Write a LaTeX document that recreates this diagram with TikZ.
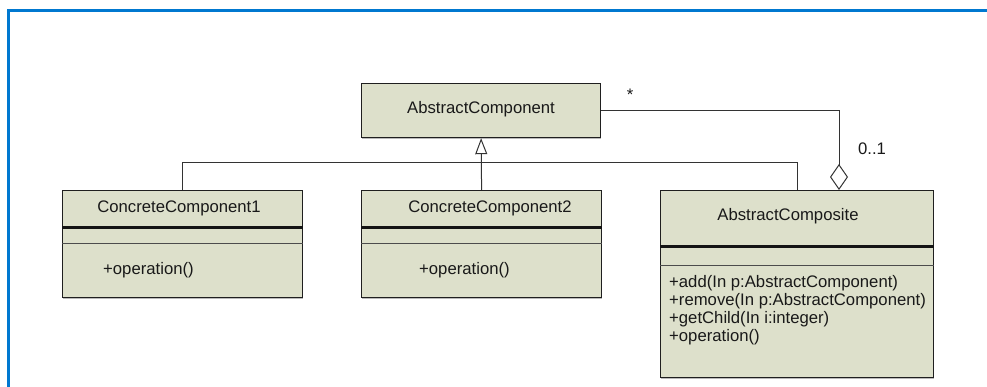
\documentclass[tikz,border=0pt]{standalone}
\usepackage{fontspec}
\setmainfont{Liberation Sans}
\usetikzlibrary{arrows.meta,calc,shadows}

\definecolor{classfill}{RGB}{221,224,203}
\definecolor{frameblue}{RGB}{0,120,208}

\begin{document}
\begin{tikzpicture}[x=1pt,y=-1pt,
  classbox/.style={draw=black!88, line width=1.2pt, fill=classfill,
    anchor=north west, inner sep=0pt, minimum width=#1,
    drop shadow={shadow xshift=0.6pt, shadow yshift=-1.2pt, fill=black!45, opacity=0.6}},
  lbl/.style={font=\fontsize{16.7}{18}\selectfont, inner sep=0pt, text=black!90},
  meth/.style={lbl, anchor=west},
  septhick/.style={line width=3pt, black!92},
  septhin/.style={line width=1pt, black!70},
  link/.style={line width=1pt, black!80},
  generalize/.style={link, -{Triangle[open, length=16pt, width=12pt, fill=white]}},
  aggregate/.style={link, -{Diamond[open, length=26pt, width=18pt, fill=white]}}
]
\useasboundingbox (0,0) rectangle (987,387);

% outer frame (top and left edges)
\draw[frameblue, line width=3pt] (8.5,387) -- (8.5,11) -- (987,11);

% classes
\node[classbox=239pt, minimum height=54pt] (abs) at (361,83) {};
\node[lbl] (absname) at (481,109) {AbstractComponent};

\node[classbox=240pt, minimum height=107pt] (cc1) at (62,190) {};
\node[lbl] (cc1name) at (179,208) {ConcreteComponent1};
\draw[septhick] (cc1.west |- 0,228) coordinate (cc1a) -- (cc1.east |- cc1a);
\draw[septhin] (cc1.west |- 0,244) coordinate (cc1b) -- (cc1.east |- cc1b);
\node[meth] (cc1op) at (103,270) {+operation()};

\node[classbox=240pt, minimum height=107pt] (cc2) at (361,190) {};
\node[lbl] (cc2name) at (490,208) {ConcreteComponent2};
\draw[septhick] (cc2.west |- 0,228) coordinate (cc2a) -- (cc2.east |- cc2a);
\draw[septhin] (cc2.west |- 0,244) coordinate (cc2b) -- (cc2.east |- cc2b);
\node[meth] (cc2op) at (419,270) {+operation()};

\node[classbox=273pt, minimum height=187pt] (comp) at (660,190) {};
\node[lbl] (compname) at (788,216) {AbstractComposite};
\draw[septhick] (comp.west |- 0,247) coordinate (compa) -- (comp.east |- compa);
\draw[septhin] (comp.west |- 0,265) coordinate (compb) -- (comp.east |- compb);
\node[meth] (m1) at (669,283) {+add(In p:AbstractComponent)};
\node[meth] (m2) at (669,301) {+remove(In p:AbstractComponent)};
\node[meth] (m3) at (669,319) {+getChild(In i:integer)};
\node[meth] (m4) at (669,337) {+operation()};

% generalization
\coordinate (bus) at (0,163);
\draw[link] (cc1.north) |- (bus -| comp.north) -- (comp.north);
\draw[generalize] (cc2.north) -- (abs.south);

% aggregation
\coordinate (aggend) at (839,190);
\draw[aggregate] (abs.east) -| (aggend);
\node[lbl] (mstar) at (630,95) {*};
\node[lbl] (mzero) at (872,149) {0..1};
\end{tikzpicture}
\end{document}
